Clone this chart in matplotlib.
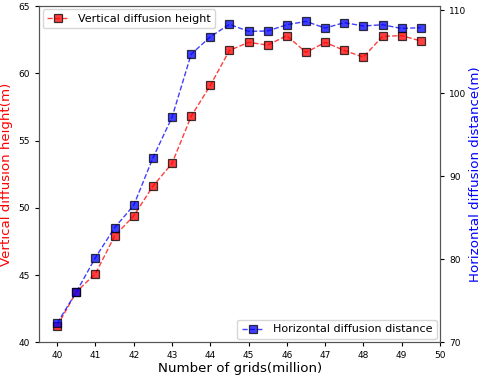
import numpy as np
import matplotlib
matplotlib.use("Agg")
from matplotlib import pyplot as plt

# grid counts (million)
grids = [40, 40.5, 41, 41.5, 42, 42.5, 43, 43.5, 44, 44.5,
         45, 45.5, 46, 46.5, 47, 47.5, 48, 48.5, 49, 49.5]
# vertical diffusion height (m)
height = [41.2, 43.75, 45.1, 47.9, 49.4, 51.6, 53.3, 56.8, 59.1, 61.7,
          62.3, 62.1, 62.8, 61.55, 62.3, 61.7, 61.2, 62.75, 62.8, 62.4]
# horizontal diffusion distance (m)
distance = [72.3, 76.05, 80.2, 83.8, 86.5, 92.2, 97.1, 104.7, 106.8, 108.3,
            107.45, 107.5, 108.25, 108.65, 107.85, 108.5, 108.1, 108.25, 107.8, 107.9]

fig = plt.figure(figsize=(4.84, 3.79), dpi=100)
ax1 = fig.add_axes([0.081, 0.097, 0.828, 0.887])

ax1.plot(grids, height, 's--', color='red', alpha=0.75, markeredgecolor='k',
         markersize=5.6, markeredgewidth=0.9, linewidth=1, label='Vertical diffusion height')
ax1.set_xlim(39.53, 50)
ax1.set_ylim(40, 65)
ax1.set_xticks(np.arange(40, 51, 1))
ax1.set_yticks(np.arange(40, 66, 5))
ax1.tick_params(labelsize=6.5, length=3)
ax1.set_xlabel('Number of grids(million)', fontsize=9.6, labelpad=1)
ax1.set_ylabel('Vertical diffusion height(m)', fontsize=9.6, color='red', labelpad=4)
ax1.legend(loc='upper left', fontsize=8, borderaxespad=0.3)

ax2 = ax1.twinx()
ax2.plot(grids, distance, 's--', color='blue', alpha=0.75, markeredgecolor='k',
         markersize=5.6, markeredgewidth=0.9, linewidth=1, label='Horizontal diffusion distance')
ax2.set_ylim(70, 110.5)
ax2.set_yticks(np.arange(70, 111, 10))
ax2.tick_params(labelsize=6.5, length=3)
ax2.set_ylabel('Horizontal diffusion distance(m)', fontsize=9.6, color='blue', labelpad=2)
ax2.legend(loc='lower right', fontsize=8, borderaxespad=0.3)

for a in (ax1, ax2):
    for s in a.spines.values():
        s.set_color('#555555')

fig.savefig('out.png', dpi=100)
